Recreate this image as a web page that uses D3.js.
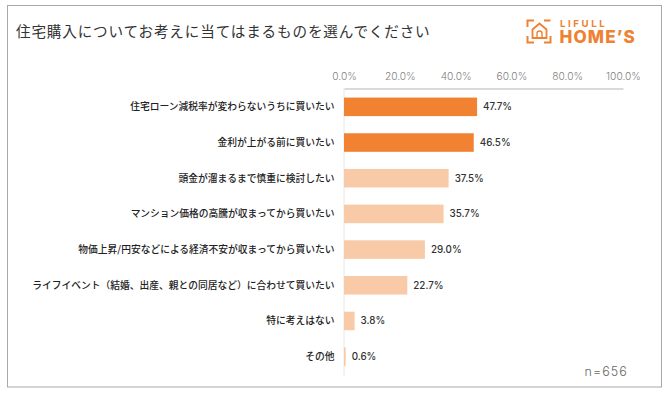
<!DOCTYPE html>
<html>
<head>
<meta charset="utf-8">
<script src="https://cdn.jsdelivr.net/npm/d3@7"></script>
<style>
  body { margin: 0; background: #fff; }
  svg { display: block; }
  text { font-family: "Noto Sans CJK JP", sans-serif; }
  .num { font-family: Inter, "Noto Sans", sans-serif; }
</style>
</head>
<body>
<svg width="668" height="393"></svg>
<script>
// chart data
var categories = [
  "住宅ローン減税率が変わらないうちに買いたい",
  "金利が上がる前に買いたい",
  "頭金が溜まるまで慎重に検討したい",
  "マンション価格の高騰が収まってから買いたい",
  "物価上昇/円安などによる経済不安が収まってから買いたい",
  "ライフイベント（結婚、出産、親との同居など）に合わせて買いたい",
  "特に考えはない",
  "その他"
];
var values = [47.7, 46.5, 37.5, 35.7, 29.0, 22.7, 3.8, 0.6];
var highlighted = [true, true, false, false, false, false, false, false];
var ticks = [0, 20, 40, 60, 80, 100];

var svg = d3.select("svg");

// outer frame
svg.append("rect")
  .attr("x", 7.5).attr("y", 5.5)
  .attr("width", 654).attr("height", 381.5)
  .attr("fill", "none")
  .attr("stroke", "#a9a9a9")
  .attr("stroke-width", 1);

svg.append("text")
  .attr("x", 16).attr("y", 36.5)
  .attr("font-size", 14.6)
  .attr("letter-spacing", 0.83)
  .attr("fill", "#333")
  .text("住宅購入についてお考えに当てはまるものを選んでください");

var xScale = d3.scaleLinear().domain([0, 100]).range([344, 623]);
var yScale = d3.scaleBand().domain(categories).range([89, 374.5]).paddingInner(0.48).paddingOuter(0.24);

// top axis
var xAxis = d3.axisTop(xScale)
  .tickValues(ticks)
  .tickSize(0)
  .tickPadding(9)
  .tickFormat(function(d) { return d.toFixed(1) + "%"; });

var axisG = svg.append("g")
  .attr("transform", "translate(0,88.5)")
  .call(xAxis);
axisG.select(".domain").attr("stroke", "#b5b5b5").attr("stroke-width", 1.2);
axisG.selectAll("text")
  .attr("class", "num")
  .attr("font-size", 10.2)
  .attr("font-weight", 300)
  .attr("fill", "#808080");

// vertical baseline
svg.append("line")
  .attr("x1", xScale(0)).attr("x2", xScale(0))
  .attr("y1", 88).attr("y2", 376)
  .attr("stroke", "#e6e6e6")
  .attr("stroke-width", 1);

svg.selectAll("rect.bar")
  .data(values)
  .join("rect")
  .attr("class", "bar")
  .attr("x", xScale(0))
  .attr("y", function(d, i) { return yScale(categories[i]); })
  .attr("width", function(d) { return xScale(d) - xScale(0); })
  .attr("height", yScale.bandwidth())
  .attr("fill", function(d, i) { return highlighted[i] ? "#f08232" : "#f9caa7"; });

svg.selectAll("text.cat")
  .data(categories)
  .join("text")
  .attr("class", "cat")
  .attr("x", 334.5)
  .attr("y", function(d) { return yScale(d) + yScale.bandwidth() / 2; })
  .attr("dy", "0.36em")
  .attr("text-anchor", "end")
  .attr("font-size", 9.75)
  .attr("font-weight", 500)
  .attr("fill", "#222")
  .text(function(d) { return d; });

svg.selectAll("text.val")
  .data(values)
  .join("text")
  .attr("class", "val num")
  .attr("x", function(d) { return xScale(d) + 6; })
  .attr("y", function(d, i) { return yScale(categories[i]) + yScale.bandwidth() / 2; })
  .attr("dy", "0.36em")
  .attr("font-size", 9.8)
  .attr("font-weight", 500)
  .attr("fill", "#333")
  .text(function(d) { return d.toFixed(1) + "%"; });

svg.append("text")
  .attr("class", "num")
  .attr("x", 628).attr("y", 376)
  .attr("text-anchor", "end")
  .attr("font-size", 12.5)
  .attr("font-weight", 300)
  .attr("letter-spacing", 1.1)
  .attr("fill", "#666")
  .text("n=656");

// logo
var logo = svg.append("g").attr("fill", "none").attr("stroke", "#ee8132").attr("stroke-width", 2);
logo.append("path").attr("d", "M527.5 27V20.5H534");
logo.append("path").attr("d", "M544 20.5H550.5");
logo.append("path").attr("d", "M527.5 36V42.5H534");
logo.append("path").attr("d", "M544 42.5H550.5V36");
logo.append("path").attr("d", "M532.5 38V29.5L539.5 23.5L546.5 29.5V38H532.5Z").attr("stroke-width", 1.8);
logo.append("path").attr("d", "M537 38V33.5A2.5 2.5 0 0 1 542 33.5V38").attr("stroke-width", 1.4);

svg.append("text")
  .attr("class", "num")
  .attr("x", 560).attr("y", 26.5)
  .attr("font-size", 9.6)
  .attr("font-weight", 700)
  .attr("letter-spacing", 2.6)
  .attr("fill", "#ee8132")
  .text("LIFULL");
svg.append("text")
  .attr("class", "num")
  .attr("x", 559.5).attr("y", 43)
  .attr("font-size", 17.2)
  .attr("font-weight", 800)
  .attr("letter-spacing", 1.1)
  .attr("fill", "#ee8132")
  .text("HOME’S");
</script>
</body>
</html>
